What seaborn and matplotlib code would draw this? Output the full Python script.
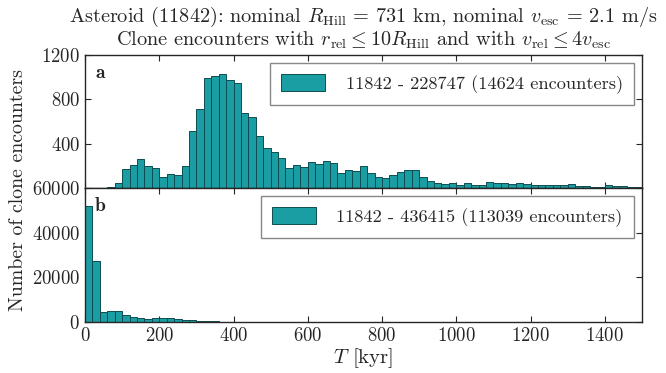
import numpy as np
import matplotlib
matplotlib.use("Agg")
import matplotlib.pyplot as plt
import seaborn as sns

# bin edges in kyr (20 kyr bins from 0 to 1500)
bin_edges = list(range(0, 1520, 20))

# counts per bin
counts_a = [0, 0, 0, 6, 48, 175, 211, 265, 202, 184,
            102, 127, 118, 199, 518, 714, 988, 1006, 1027, 976,
            943, 675, 636, 473, 362, 325, 268, 178, 211, 187,
            238, 220, 247, 229, 133, 163, 157, 196, 133, 96,
            87, 114, 142, 160, 160, 99, 66, 48, 33, 42,
            27, 42, 27, 30, 57, 48, 42, 39, 42, 39,
            27, 24, 30, 24, 24, 33, 15, 15, 12, 12,
            27, 18, 15, 12, 10]
counts_b = [52000, 27100, 4440, 4890, 4740, 3110, 2070, 1630, 1185, 1630,
            1630, 1630, 1185, 740, 740, 440, 300, 250, 200, 160,
            140, 120, 110, 100, 90, 80, 80, 70, 70, 60,
            120, 130, 120, 110, 100, 60, 50, 40, 40, 35,
            30, 30, 30, 25, 25, 25, 20, 20, 20, 20,
            20, 15, 15, 15, 15, 15, 15, 10, 10, 10,
            10, 10, 10, 10, 10, 10, 10, 10, 10, 10,
            10, 10, 10, 10, 10]

label_a = "11842 - 228747 (14624 encounters)"
label_b = "11842 - 436415 (113039 encounters)"
xticks = [0, 200, 400, 600, 800, 1000, 1200, 1400]
yticks_a = [400, 800, 1200]
yticks_b = [0, 20000, 40000, 60000]

sns.set_style("ticks")
plt.rcParams["font.family"] = ["cmr10"]
plt.rcParams["mathtext.fontset"] = "cm"
plt.rcParams["axes.formatter.use_mathtext"] = True
plt.rcParams["axes.unicode_minus"] = False

face = "#1a9ea3"
edge = "#0e4c50"

fig = plt.figure(figsize=(6.66, 3.73), dpi=100)
ax_a = fig.add_axes([0.1276, 0.496, 0.8363, 0.3566])
ax_b = fig.add_axes([0.1276, 0.1367, 0.8363, 0.3592])

centers = [(bin_edges[i] + bin_edges[i + 1]) / 2 for i in range(len(bin_edges) - 1)]

for ax, counts, lab, panel in [(ax_a, counts_a, label_a, "a"), (ax_b, counts_b, label_b, "b")]:
    sns.histplot(x=centers, weights=counts, bins=bin_edges, ax=ax,
                 color=face, edgecolor=edge, linewidth=0.7, alpha=1, label=lab)
    ax.set_xlim(0, 1500)
    ax.set_ylabel("")
    ax.set_xlabel("")
    ax.set_xticks(xticks)
    ax.tick_params(direction="in", top=True, right=True, labelsize=13.5, length=4, width=0.8)
    for s in ax.spines.values():
        s.set_linewidth(1.0)
    leg = ax.legend(loc="upper right", fontsize=13.2, fancybox=False, framealpha=1,
                    edgecolor="#888888", handlelength=2.4, handleheight=1.0,
                    borderpad=0.6, handletextpad=1.1, borderaxespad=0.45)
    leg.get_frame().set_linewidth(1.0)
    ax.text(0.018, 0.93, panel, transform=ax.transAxes, fontsize=14,
            family="cmb10", va="top", ha="left")

ax_a.set_ylim(0, 1200)
ax_a.set_yticks(yticks_a)
ax_a.set_xticklabels([])
ax_b.set_ylim(0, 60000)
ax_b.set_yticks(yticks_b)
ax_b.set_xlabel(r"$T$ [kyr]", fontsize=15, labelpad=1)

ax_a.set_title("Asteroid (11842): nominal $R_{\\rm Hill}$ = 731 km, nominal $v_{\\rm esc}$ = 2.1 m/s\n"
               "Clone encounters with $r_{\\rm rel} \\leq 10 R_{\\rm Hill}$ and with $v_{\\rm rel} \\leq 4 v_{\\rm esc}$",
               fontsize=14.6, pad=7, linespacing=1.02)

fig.text(0.027, 0.49, "Number of clone encounters", rotation=90, fontsize=14.3,
         va="center", ha="center")

fig.savefig("out.png", dpi=100)
